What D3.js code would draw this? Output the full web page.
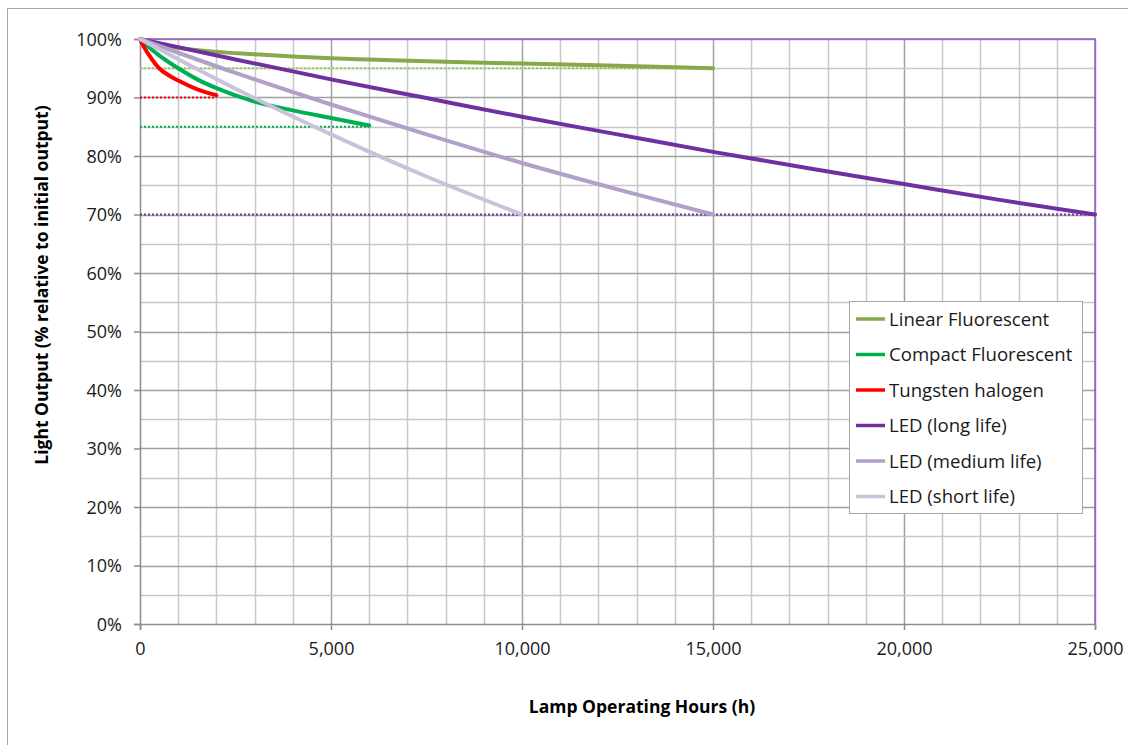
<!DOCTYPE html>
<html><head><meta charset="utf-8">
<script src="https://cdn.jsdelivr.net/npm/d3@7"></script>
<style>
html,body{margin:0;padding:0;background:#fff;}
svg{display:block;font-family:"Open Sans",sans-serif;}
</style></head>
<body><svg id="c" width="1128" height="745"></svg>
<script>
// ---- data ----
const seriesNames = ["Linear Fluorescent","Compact Fluorescent","Tungsten halogen","LED (long life)","LED (medium life)","LED (short life)"];
const seriesColors = ["#87A94A","#00B050","#FF0000","#7030A0","#B1A0C7","#CCC1DA"];
const linearHours = [0,250,500,1000,2000,3000,4000,5000,6000,8000,10000,12000,15000];
const linearValues = [100,99.5,99.1,98.5,97.8,97.4,97.0,96.7,96.5,96.1,95.8,95.5,95.0];
const compactHours = [0,250,500,1000,1500,2000,3000,4000,5000,6000];
const compactValues = [100,98.5,97.2,95.0,93.1,91.6,89.3,87.8,86.5,85.2];
const halogenHours = [0,125,250,500,750,1000,1500,2000];
const halogenValues = [100,98.4,97.1,95.0,93.8,92.9,91.4,90.4];
const ledLongHours = [0,2500,5000,7500,10000,12500,15000,17500,20000,22500,25000];
const ledLongValues = [100,96.5,93.1,89.9,86.7,83.7,80.7,77.9,75.2,72.5,70.0];
const ledMedHours = [0,2500,5000,7500,10000,12500,15000];
const ledMedValues = [100,94.2,88.8,83.7,78.8,74.3,70.0];
const ledShortHours = [0,2500,5000,7500,10000];
const ledShortValues = [100,91.5,83.7,76.5,70.0];
// reference (dotted) lines
const refLevels = [95,85,90,70];
const refEnds = [15000,6000,2000,25000];
const refColors = ["#92D050","#00B050","#FF0000","#7030A0"];
const xTicks = [0,5000,10000,15000,20000,25000];
const yTicks = [0,10,20,30,40,50,60,70,80,90,100];

const seriesHours = [linearHours,compactHours,halogenHours,ledLongHours,ledMedHours,ledShortHours];
const seriesValues = [linearValues,compactValues,halogenValues,ledLongValues,ledMedValues,ledShortValues];

const svg = d3.select("#c");
const L=140,R=1095,T=39,B=624;
const x = d3.scaleLinear().domain([0,25000]).range([L,R]);
const y = d3.scaleLinear().domain([0,100]).range([B,T]);

// outer chart border
svg.append("path").attr("d","M7.5,745 V8.5 H1128").attr("fill","none").attr("stroke","#A6A6A6").attr("stroke-width",1);

// gridlines
const g = svg.append("g");
d3.range(1000,25001,1000).forEach(h=>{
  const major = h%5000===0;
  g.append("line").attr("x1",Math.round(x(h))+0.5).attr("x2",Math.round(x(h))+0.5).attr("y1",T).attr("y2",B)
    .attr("stroke",major?"#A0A0A0":"#C8C8C8").attr("stroke-width",1.5);
});
d3.range(5,101,5).forEach(v=>{
  const major = v%10===0;
  g.append("line").attr("x1",L).attr("x2",R).attr("y1",Math.round(y(v))+0.5).attr("y2",Math.round(y(v))+0.5)
    .attr("stroke",major?"#A0A0A0":"#C8C8C8").attr("stroke-width",1.5);
});
// plot-area border (purple, top & right)
svg.append("path").attr("d",`M${L},${T} H${R} V${B}`).attr("fill","none").attr("stroke","#8F5DC5").attr("stroke-width",1.5);

// axes
const xAxis = d3.axisBottom(x).tickValues(xTicks).tickSize(6).tickPadding(11).tickFormat(d3.format(","));
const yAxis = d3.axisLeft(y).tickValues(yTicks).tickSize(6).tickPadding(12).tickFormat(d=>d+"%");
const gx = svg.append("g").attr("transform",`translate(0,${B})`).call(xAxis);
const gy = svg.append("g").attr("transform",`translate(${L},0)`).call(yAxis);
[gx,gy].forEach(a=>{
  a.select(".domain").attr("stroke","#8C8C8C").attr("stroke-width",1.5);
  a.selectAll(".tick line").attr("stroke","#8C8C8C").attr("stroke-width",1.5);
  a.selectAll("text").attr("fill","#1a1a1a").style("font-size","18px").style("font-family","'Open Sans',sans-serif");
});
gx.selectAll(".tick text").attr("dy","0.8em");
gy.selectAll(".tick text").attr("dy","0.35em");

// reference dotted lines
refLevels.forEach((v,i)=>{
  svg.append("line").attr("x1",x(0)).attr("x2",x(refEnds[i])).attr("y1",y(v)).attr("y2",y(v))
    .attr("stroke",refColors[i]).attr("stroke-width",2.2).attr("stroke-dasharray","2,2");
});

// series
const line = d3.line().x(d=>x(d[0])).y(d=>y(d[1])).curve(d3.curveMonotoneX);
seriesNames.forEach((n,i)=>{
  const pts = seriesHours[i].map((h,j)=>[h,seriesValues[i][j]]);
  svg.append("path").datum(pts).attr("d",line).attr("fill","none")
    .attr("stroke",seriesColors[i]).attr("stroke-width",4).attr("stroke-linecap","round");
});

// legend
const lg = svg.append("g").attr("transform","translate(849,301)");
lg.append("rect").attr("x",0.5).attr("y",0.5).attr("width",233).attr("height",212).attr("fill","#fff").attr("stroke","#A6A6A6");
seriesNames.forEach((n,i)=>{
  const yy = 18 + i*35.5;
  lg.append("line").attr("x1",7).attr("x2",36).attr("y1",yy).attr("y2",yy).attr("stroke",seriesColors[i]).attr("stroke-width",3.5);
  lg.append("text").attr("x",40).attr("y",yy).attr("dy","0.35em").text(n).style("font-size","18.6px").attr("fill","#1a1a1a");
});

// axis titles
svg.append("text").attr("x",642).attr("y",707).attr("dy","0.35em").attr("text-anchor","middle")
  .style("font-weight","bold").style("font-size","17.5px").attr("fill","#000").text("Lamp Operating Hours (h)");
svg.append("text").attr("transform","translate(42,285) rotate(-90)").attr("dy","0.35em").attr("text-anchor","middle")
  .style("font-weight","bold").style("font-size","17.5px").attr("fill","#000").text("Light Output (% relative to initial output)");
</script></body></html>
